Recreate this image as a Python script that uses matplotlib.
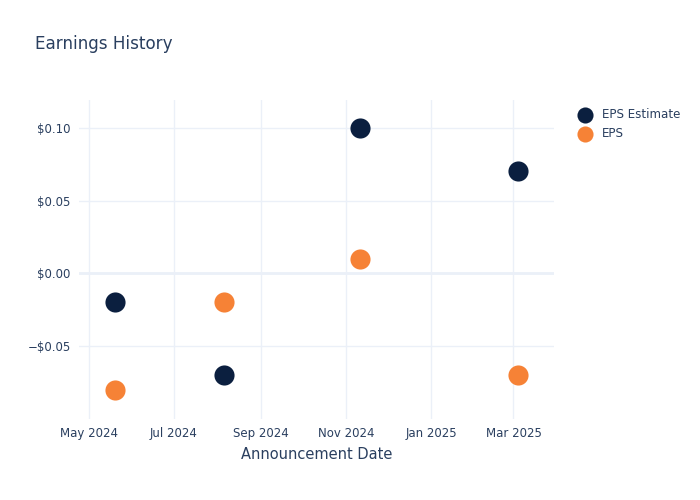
import matplotlib.pyplot as plt
import matplotlib.dates as mdates
import matplotlib.ticker as mticker
import numpy as np

dates = np.array(["2024-05-20", "2024-08-06", "2024-11-11", "2025-03-04"], dtype="datetime64[D]")
eps_estimate = [-0.02, -0.07, 0.10, 0.07]
eps_actual = [-0.08, -0.02, 0.01, -0.07]

text_color = "#2a3f5f"
grid_color = "#ebf0f8"

fig = plt.figure(figsize=(7, 5), dpi=100)
ax = fig.add_axes([79 / 700, 1 - 419 / 500, (554 - 79) / 700, (419 - 100) / 500])

ax.scatter(dates, eps_estimate, s=210, color="#0b1f3f", label="EPS Estimate", zorder=3, linewidths=0)
ax.scatter(dates, eps_actual, s=210, color="#f68236", label="EPS", zorder=3, linewidths=0)

ax.set_xlim(np.datetime64("2024-04-24"), np.datetime64("2025-03-30"))
ax.set_ylim(-0.1, 0.119)

ax.xaxis.set_major_locator(mdates.MonthLocator(bymonth=[1, 3, 5, 7, 9, 11]))
ax.xaxis.set_major_formatter(mdates.DateFormatter("%b %Y"))
ax.yaxis.set_major_locator(mticker.FixedLocator([-0.05, 0.0, 0.05, 0.10]))
ax.yaxis.set_major_formatter(mticker.FuncFormatter(
    lambda v, p: ("\u2212$" if v < -1e-9 else "$") + f"{abs(v):.2f}"))

ax.grid(True, color=grid_color, linewidth=1)
ax.axhline(0, color=grid_color, linewidth=2, zorder=1)
ax.set_axisbelow(True)
for s in ax.spines.values():
    s.set_visible(False)
ax.tick_params(length=0, labelsize=8.5, labelcolor=text_color, pad=6)

ax.set_xlabel("Announcement Date", fontsize=10.5, color=text_color, labelpad=5)

fig.text(35 / 700, 1 - 44 / 500, "Earnings History", fontsize=12.1, color=text_color, va="center")

ax.legend(loc="upper left", bbox_to_anchor=(1.017, 1.008), frameon=False, fontsize=8.6,
          labelcolor=text_color, markerscale=0.8, handletextpad=0.45, labelspacing=0.48)

fig.savefig("out.png", dpi=100)
